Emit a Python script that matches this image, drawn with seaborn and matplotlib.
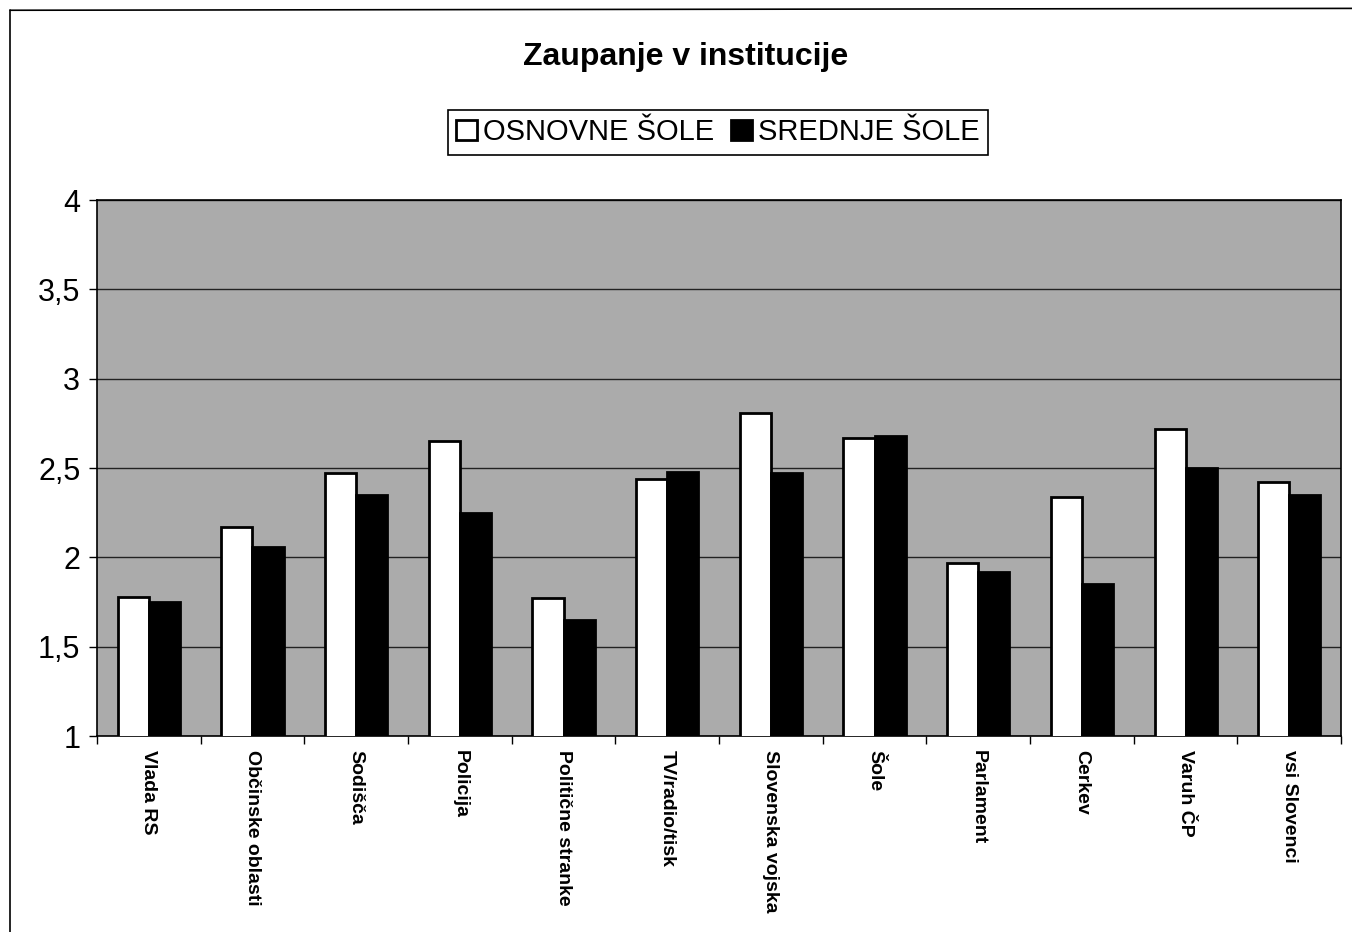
import pandas as pd
import numpy as np
import seaborn as sns
import matplotlib.pyplot as plt
from matplotlib.lines import Line2D
from matplotlib.ticker import FuncFormatter, MultipleLocator, FixedLocator

institucije = ['Vlada RS', 'Občinske oblasti', 'Sodišča', 'Policija', 'Politične stranke',
               'TV/radio/tisk', 'Slovenska vojska', 'Šole', 'Parlament', 'Cerkev',
               'Varuh ČP', 'vsi Slovenci']
osnovne = [1.78, 2.17, 2.47, 2.65, 1.77, 2.44, 2.81, 2.67, 1.97, 2.34, 2.72, 2.42]
srednje = [1.75, 2.06, 2.35, 2.25, 1.65, 2.48, 2.47, 2.68, 1.92, 1.85, 2.50, 2.35]
skupine = ['OSNOVNE ŠOLE', 'SREDNJE ŠOLE']

df = pd.DataFrame({'inst': institucije * 2,
                   'val': osnovne + srednje,
                   'grp': [skupine[0]] * len(osnovne) + [skupine[1]] * len(srednje)})

sns.set_style('white')
plt.rcParams['font.family'] = ['Liberation Sans', 'DejaVu Sans']
plt.rcParams['text.color'] = 'black'
plt.rcParams['xtick.color'] = 'black'
plt.rcParams['ytick.color'] = 'black'

fig = plt.figure(figsize=(13.52, 9.32), dpi=100)
ax = fig.add_axes([0.0717, 0.2103, 0.9203, 0.5751])
ax.set_facecolor('#ababab')

sns.barplot(data=df, x='inst', y='val', hue='grp', order=institucije, hue_order=skupine,
            palette={skupine[0]: 'white', skupine[1]: 'black'}, width=0.6, gap=0,
            edgecolor='black', linewidth=2, ax=ax, zorder=3)

ax.set_ylim(1, 4)
ax.set_xlim(-0.5, len(institucije) - 0.5)
ax.yaxis.set_major_locator(MultipleLocator(0.5))
ax.yaxis.set_major_formatter(FuncFormatter(lambda v, p: ('%g' % v).replace('.', ',')))
ax.grid(axis='y', color='#222222', linewidth=1, zorder=1)
ax.set_axisbelow(True)
for s in ax.spines.values():
    s.set_visible(True)
    s.set_color('black')
    s.set_linewidth(1.2)

ax.tick_params(axis='y', labelsize=22, labelcolor='black', left=True, length=6, width=1,
               direction='out', pad=6)
ax.set_xticks(range(len(institucije)))
ax.set_xticklabels(institucije, rotation=270, fontsize=14, fontweight='bold', va='top',
                   ha='center', color='black')
ax.tick_params(axis='x', which='major', length=0, pad=10)
ax.xaxis.set_minor_locator(FixedLocator(np.arange(-0.5, len(institucije), 1)))
ax.tick_params(axis='x', which='minor', bottom=True, length=6, width=1, direction='out')
ax.set_xlabel('')
ax.set_ylabel('')

fig.text(0.507, 0.939, 'Zaupanje v institucije', ha='center', va='center',
         fontsize=23, fontweight='bold', color='black')

handles, labels = ax.get_legend_handles_labels()
leg = ax.legend(handles, labels, ncol=2, loc='center', bbox_to_anchor=(0.531, 0.858),
                bbox_transform=fig.transFigure, fontsize=21, frameon=True, fancybox=False,
                framealpha=1, edgecolor='black', handlelength=0.7, handleheight=0.7,
                handletextpad=0.2, columnspacing=0.6, borderpad=0.3, borderaxespad=0,
                labelcolor='black')
leg.get_frame().set_linewidth(1.2)

fig.add_artist(Line2D([0.0075, 0.0075], [0.0, 0.989], color='black', linewidth=1.2,
                      transform=fig.transFigure))
fig.add_artist(Line2D([0.0075, 1.0], [0.989, 0.991], color='black', linewidth=1.2,
                      transform=fig.transFigure))

plt.savefig('out.png', dpi=100)
